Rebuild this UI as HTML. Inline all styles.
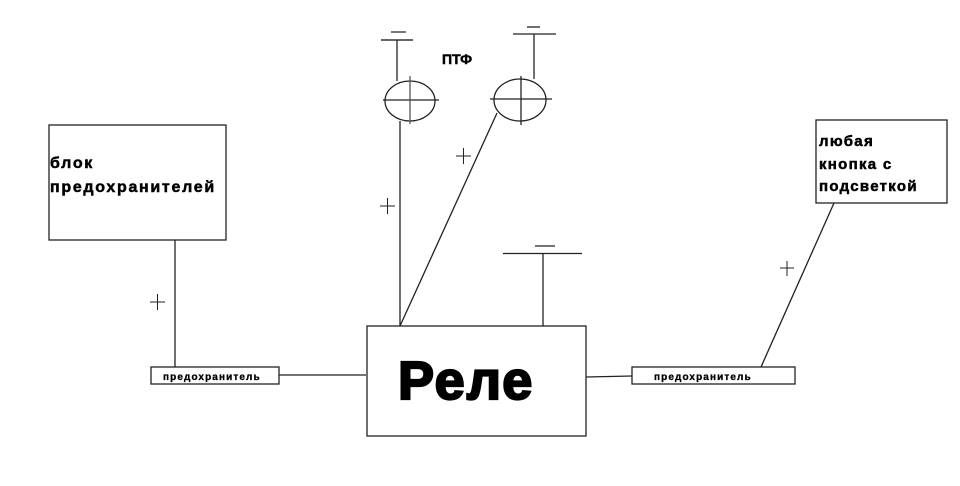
<!DOCTYPE html>
<html><head><meta charset="utf-8"><style>
html,body{margin:0;padding:0;background:#fff;}
svg{display:block;}
text{font-family:"Liberation Sans","DejaVu Sans",sans-serif;font-weight:bold;fill:#000;stroke:#000;stroke-width:0.5;}
</style></head><body>
<svg width="960" height="486" viewBox="0 0 960 486" xmlns="http://www.w3.org/2000/svg">
<g stroke="#222" stroke-width="1.3" fill="none">
<rect x="49" y="125" width="177" height="115"/>
<line x1="175" y1="240" x2="175" y2="367"/>
<rect x="151" y="367" width="128" height="17"/>
<line x1="279" y1="375" x2="366" y2="375"/>
<rect x="367" y="326" width="219" height="110"/>
<line x1="586" y1="377" x2="632" y2="376"/>
<rect x="632" y="367" width="163" height="17"/>
<line x1="761" y1="367" x2="834" y2="203"/>
<rect x="816" y="120" width="131" height="83"/>
<line x1="543" y1="253" x2="543" y2="326"/>
<line x1="503" y1="253.5" x2="582" y2="253.5"/>
<line x1="535" y1="246" x2="555" y2="246"/>
<line x1="381" y1="40" x2="413" y2="40" stroke="#666" stroke-width="2"/>
<line x1="391" y1="32" x2="406" y2="32" stroke="#777" stroke-width="2"/>
<line x1="397" y1="40" x2="397" y2="81"/>
<ellipse cx="410" cy="101" rx="25" ry="20"/>
<line x1="383" y1="100" x2="439" y2="100"/>
<line x1="410" y1="76" x2="410" y2="124" stroke="#555"/>
<line x1="400" y1="121" x2="400" y2="326"/>
<line x1="513" y1="34" x2="556" y2="34"/>
<line x1="527" y1="27" x2="540" y2="27"/>
<line x1="534" y1="34" x2="534" y2="79"/>
<ellipse cx="520" cy="100" rx="26" ry="21"/>
<line x1="490" y1="99" x2="552" y2="99"/>
<line x1="521" y1="76" x2="521" y2="125"/>
<line x1="497" y1="113" x2="400" y2="326"/>
<g stroke-width="1">
<line x1="150" y1="302" x2="165" y2="302"/><line x1="157.5" y1="294" x2="157.5" y2="310"/>
<line x1="380" y1="206" x2="395" y2="206"/><line x1="387.5" y1="198" x2="387.5" y2="214"/>
<line x1="456" y1="156" x2="471" y2="156"/><line x1="463.5" y1="148" x2="463.5" y2="164"/>
<line x1="780" y1="268" x2="794" y2="268"/><line x1="787" y1="261" x2="787" y2="276"/>
</g>
</g>
<text x="442" y="64" font-size="14">ПТФ</text>
<text x="50" y="168" font-size="16" letter-spacing="1.7">блок</text>
<text x="50" y="192" font-size="16" letter-spacing="1.7">предохранителей</text>
<text x="819" y="146" font-size="15" letter-spacing="1.3">любая</text>
<text x="819" y="169" font-size="15" letter-spacing="1.3">кнопка с</text>
<text x="819" y="191" font-size="15" letter-spacing="1.3">подсветкой</text>
<text x="163" y="380" font-size="10" letter-spacing="1.1" style="stroke-width:0.3">предохранитель</text>
<text x="654" y="380" font-size="10" letter-spacing="1.1" style="stroke-width:0.3">предохранитель</text>
<text x="398" y="399" font-size="54" letter-spacing="2" style="stroke-width:2.2">Реле</text>
</svg>
</body></html>
